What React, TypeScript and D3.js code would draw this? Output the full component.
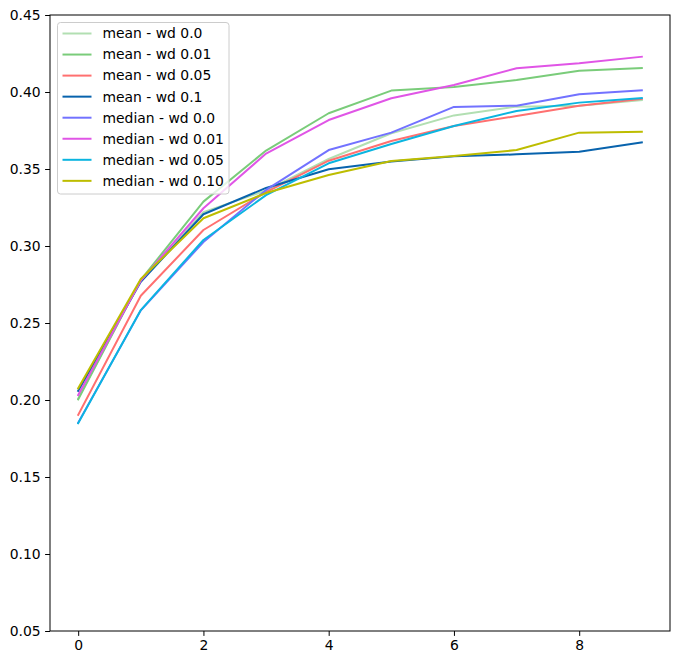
import * as d3 from "d3"
import { useEffect, useRef } from "react"

const steps = [0, 1, 2, 3, 4, 5, 6, 7, 8, 9]

const seriesNames = [
    "mean - wd 0.0",
    "mean - wd 0.01",
    "mean - wd 0.05",
    "mean - wd 0.1",
    "median - wd 0.0",
    "median - wd 0.01",
    "median - wd 0.05",
    "median - wd 0.10",
]

const seriesColors = ["#b2dfb2", "#7acc7a", "#ff7070", "#0863ad", "#7272ff", "#e055e6", "#0bb5e0", "#bdbd00"]

const meanWd00 = [0.201, 0.278, 0.322, 0.336, 0.3565, 0.3732, 0.3848, 0.3905, 0.391, 0.3948]
const meanWd001 = [0.2004, 0.278, 0.3288, 0.362, 0.3862, 0.4009, 0.4032, 0.4078, 0.4138, 0.4156]
const meanWd005 = [0.1903, 0.2677, 0.3104, 0.335, 0.3554, 0.3682, 0.3779, 0.3844, 0.3911, 0.3955]
const meanWd01 = [0.206, 0.2768, 0.3206, 0.3377, 0.3498, 0.3548, 0.3582, 0.3595, 0.3612, 0.3673]
const medianWd00 = [0.1853, 0.2582, 0.3026, 0.3364, 0.3623, 0.3736, 0.3903, 0.3911, 0.3985, 0.4011]
const medianWd001 = [0.2032, 0.2775, 0.3245, 0.36, 0.3818, 0.3959, 0.4045, 0.4154, 0.4186, 0.4229]
const medianWd005 = [0.1849, 0.2584, 0.3039, 0.333, 0.3537, 0.3662, 0.3779, 0.3877, 0.3931, 0.3961]
const medianWd010 = [0.2076, 0.2786, 0.318, 0.3344, 0.3461, 0.3552, 0.3584, 0.3623, 0.3736, 0.3742]

const seriesValues = [meanWd00, meanWd001, meanWd005, meanWd01, medianWd00, medianWd001, medianWd005, medianWd010]

const yTicks = [0.05, 0.10, 0.15, 0.20, 0.25, 0.30, 0.35, 0.40, 0.45]
const xTicks = [0, 2, 4, 6, 8]

export default function App() {
    const svgRef = useRef<SVGSVGElement>(null)

    useEffect(() => {
        const width = 680
        const height = 665
        const left = 50
        const right = 670
        const top = 15
        const bottom = 631
        const font = "DejaVu Sans, sans-serif"

        if (svgRef.current !== null) {
            svgRef.current.innerHTML = ""
        }

        const svg = d3.select(svgRef.current)
            .attr("width", width)
            .attr("height", height)
            .attr("viewBox", [0, 0, width, height])

        const xScale = d3.scaleLinear([-0.45, 9.45], [left, right])
        const yScale = d3.scaleLinear([0.05, 0.45], [bottom, top])

        svg.append("rect")
            .attr("width", width)
            .attr("height", height)
            .attr("fill", "white")

        const line = d3.line<number>()
            .x((_, i) => xScale(steps[i]))
            .y(v => yScale(v))

        svg.append("g")
            .selectAll()
            .data(seriesValues)
            .join("path")
                .attr("d", vals => line(vals))
                .attr("fill", "none")
                .attr("stroke", (_, i) => seriesColors[i])
                .attr("stroke-width", 2)
                .attr("stroke-linejoin", "round")
                .attr("stroke-linecap", "square")

        svg.append("g")
            .attr("transform", `translate(0, ${bottom})`)
            .call(d3.axisBottom(xScale).tickValues(xTicks).tickFormat(d3.format("d")).tickSize(4.9).tickPadding(4.5))
            .call(g => g.select(".domain").remove())
            .call(g => g.selectAll("text").attr("font-size", 13.9).attr("font-family", font).attr("fill", "black"))
            .call(g => g.selectAll("line").attr("stroke", "black").attr("stroke-width", 1))

        svg.append("g")
            .attr("transform", `translate(${left}, 0)`)
            .call(d3.axisLeft(yScale).tickValues(yTicks).tickFormat(d3.format(".2f")).tickSize(4.9).tickPadding(4.5))
            .call(g => g.select(".domain").remove())
            .call(g => g.selectAll("text").attr("font-size", 13.9).attr("font-family", font).attr("fill", "black"))
            .call(g => g.selectAll("line").attr("stroke", "black").attr("stroke-width", 1))

        svg.append("rect")
            .attr("x", left)
            .attr("y", top)
            .attr("width", right - left)
            .attr("height", bottom - top)
            .attr("fill", "none")
            .attr("stroke", "black")
            .attr("stroke-width", 1)

        const legend = svg.append("g")
        legend.append("rect")
            .attr("x", 57.5)
            .attr("y", 22.5)
            .attr("width", 171.5)
            .attr("height", 171.5)
            .attr("rx", 3)
            .attr("fill", "white")
            .attr("fill-opacity", 0.8)
            .attr("stroke", "#cccccc")
            .attr("stroke-width", 1)

        const rows = legend.selectAll("g.row")
            .data(seriesNames)
            .join("g")
                .attr("class", "row")
                .attr("transform", (_, i) => `translate(0, ${33.5 + i * 21.05})`)

        rows.append("line")
            .attr("x1", 62.5)
            .attr("x2", 91.5)
            .attr("stroke", (_, i) => seriesColors[i])
            .attr("stroke-width", 2)

        rows.append("text")
            .attr("x", 102.5)
            .attr("dy", "0.35em")
            .attr("font-size", 13.9)
            .attr("font-family", font)
            .attr("fill", "black")
            .text(d => d)
    }, [])

    return <div style={{ position: "absolute", left: 0, top: 0 }}>
        <svg ref={svgRef} style={{ display: "block" }}></svg>
    </div>
}
